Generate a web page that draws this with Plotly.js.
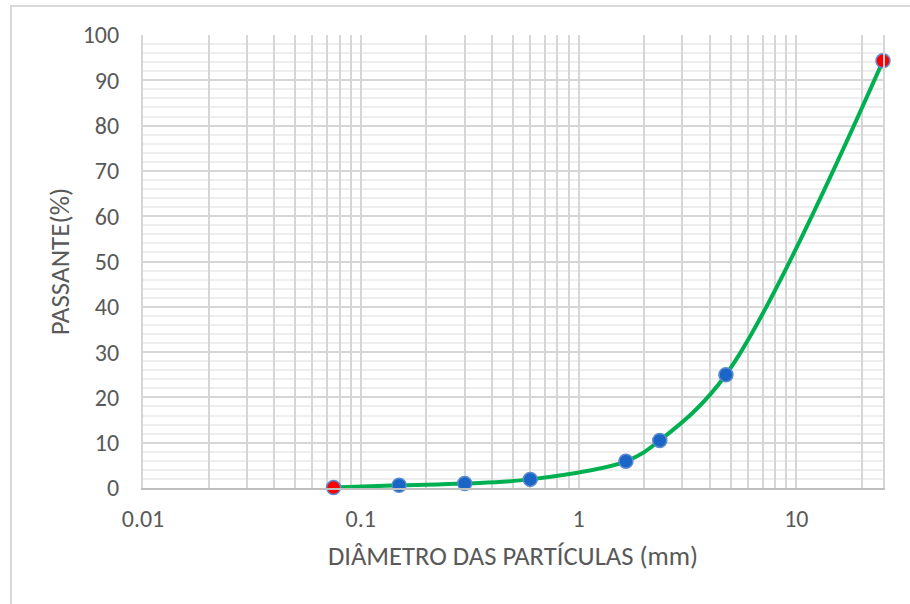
<!DOCTYPE html>
<html>
<head>
<meta charset="utf-8">
<script src="https://cdn.plot.ly/plotly-3.0.1.min.js"></script>
<style>
  html, body { margin: 0; padding: 0; background: #fff; overflow: hidden; }
  #wrap { position: relative; width: 910px; height: 604px; }
  #frame { position: absolute; left: 10px; top: 5px; width: 940px; height: 640px;
           border: 2px solid #d9d9d9; box-sizing: border-box; pointer-events: none; }
  #chart { position: absolute; left: 0; top: 0; width: 910px; height: 604px; }
</style>
</head>
<body>
<div id="wrap">
  <div id="chart"></div>
  <div id="frame"></div>
</div>
<script>
// Data
const diametro = [0.075, 0.15, 0.3, 0.6, 1.65, 2.36, 4.75, 25];
const passante = [0.1, 0.6, 1.0, 1.9, 5.9, 10.5, 25.0, 94.3];

const xTickVals = [0.01, 0.1, 1, 10];
const xTickText = ['0.01', '0.1', '1', '10'];
const xMin = 0.01, xMax = 25;

const titleX = 'DIÂMETRO DAS PARTÍCULAS (mm)';
const titleY = 'PASSANTE(%)';

// Grid positions: every 1..9 multiple within each decade (built, not data)
const gridVals = [];
for (let d = -2; d <= 1; d++) {
  for (let m = 1; m <= 9; m++) {
    const v = m * Math.pow(10, d);
    if (v <= xMax) gridVals.push(v);
  }
}
const gridText = gridVals.map(v => {
  const i = xTickVals.findIndex(t => Math.abs(t - v) < 1e-9);
  return i >= 0 ? xTickText[i] : '';
});

const BLUE = '#1a65c6', RED = '#ff0000', EDGE = '#5b8bd0';
const markerColors = diametro.map((_, i) => (i === 0 || i === diametro.length - 1) ? RED : BLUE);

const FONT = 'Calibri, Carlito, Lato, "Open Sans", sans-serif';
const TXT = '#595959';

const traces = [{
  x: diametro,
  y: passante,
  type: 'scatter',
  mode: 'lines+markers',
  line: { color: '#00b050', width: 4, shape: 'spline', smoothing: 1 },
  marker: { size: 14, color: markerColors, line: { color: EDGE, width: 1.5 } },
  cliponaxis: false,
  hoverinfo: 'x+y'
}];

const layout = {
  width: 910, height: 604,
  margin: { l: 143, r: 27, t: 35, b: 116 },
  paper_bgcolor: '#ffffff',
  plot_bgcolor: '#ffffff',
  showlegend: false,
  font: { family: FONT, color: TXT, size: 24 },
  xaxis: {
    type: 'log',
    range: [Math.log10(xMin), Math.log10(xMax)],
    tickmode: 'array',
    tickvals: gridVals,
    ticktext: gridText,
    ticks: '',
    showgrid: true,
    gridcolor: '#d6d6d6',
    gridwidth: 2,
    zeroline: false,
    showline: true,
    linecolor: '#bfbfbf',
    linewidth: 2,
    tickfont: { family: FONT, color: TXT, size: 24 },
    ticklabelstandoff: 8,
    title: { text: titleX, font: { family: FONT, color: TXT, size: 26.6 }, standoff: 15 },
    automargin: false,
    fixedrange: true
  },
  yaxis: {
    range: [0, 100],
    tickmode: 'linear',
    tick0: 0,
    dtick: 10,
    ticks: '',
    showgrid: true,
    gridcolor: '#d6d6d6',
    gridwidth: 2,
    minor: { dtick: 2, showgrid: true, gridcolor: '#eeeeee', gridwidth: 2, ticks: '' },
    zeroline: false,
    showline: true,
    mirror: true,
    linecolor: '#d6d6d6',
    linewidth: 2,
    tickfont: { family: FONT, color: TXT, size: 24 },
    ticklabelstandoff: 17,
    title: { text: titleY, font: { family: FONT, color: TXT, size: 27 }, standoff: 5 },
    automargin: false,
    fixedrange: true
  }
};

Plotly.newPlot('chart', traces, layout, { displayModeBar: false, staticPlot: true });
</script>
</body>
</html>
